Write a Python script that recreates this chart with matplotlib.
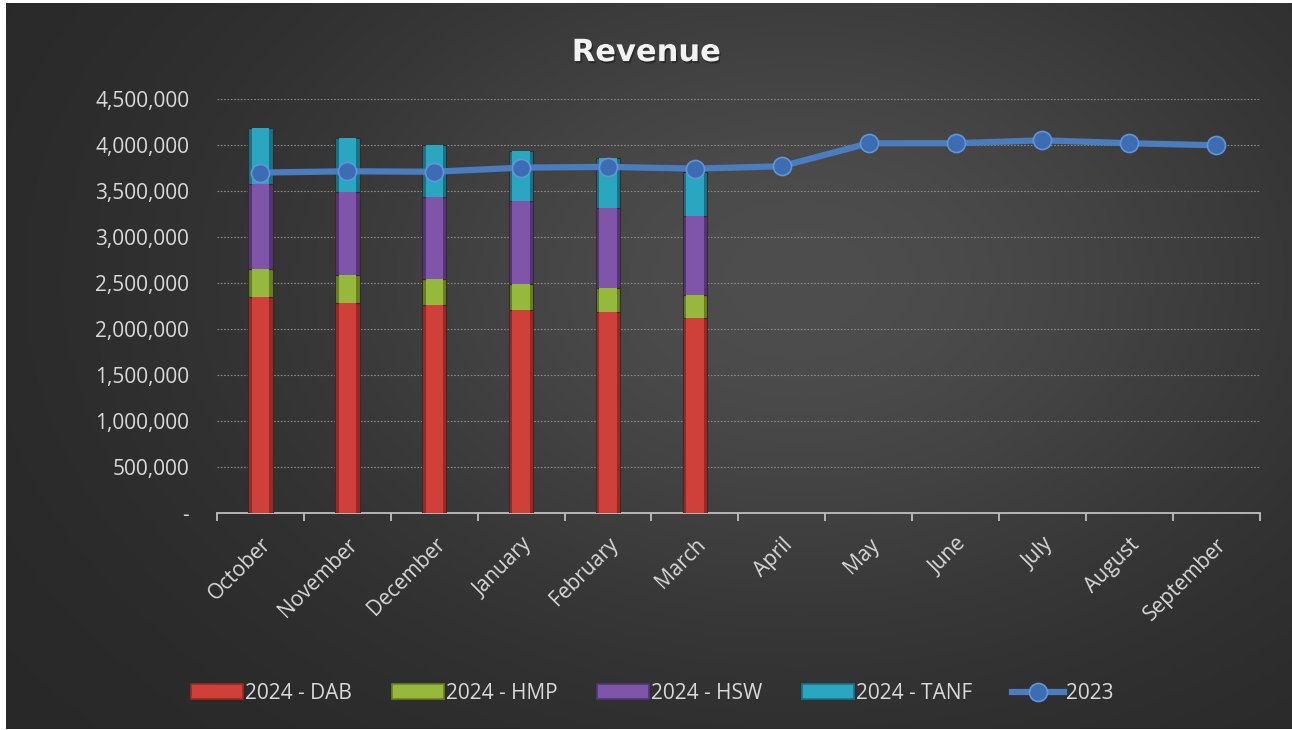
import numpy as np
import matplotlib
matplotlib.use("Agg")
import matplotlib.pyplot as plt
import matplotlib.patheffects as pe
from matplotlib.ticker import FuncFormatter, FixedLocator

months = ["October", "November", "December", "January", "February", "March",
          "April", "May", "June", "July", "August", "September"]
dab = [2345000, 2286000, 2258000, 2214000, 2185000, 2123000]
hmp = [307000, 304000, 285000, 278000, 268000, 250000]
hsw = [932000, 902000, 892000, 899000, 865000, 863000]
tanf = [608000, 587000, 568000, 551000, 548000, 470000]
rev2023 = [3703000, 3717000, 3712000, 3757000, 3765000, 3746000,
           3772000, 4022000, 4022000, 4054000, 4022000, 4000000]

plt.rcParams['font.family'] = ['Open Sans', 'DejaVu Sans']

W, H = 1292, 730
fig = plt.figure(figsize=(W / 100, H / 100), dpi=100)
fig.patch.set_facecolor('white')

# background radial gradient (chart area)
bx0, by0 = 6 / W, 1 / H
bg = fig.add_axes([bx0, by0, 1 - bx0, 1 - 3 / H - by0], zorder=-10)
px, py = np.meshgrid(np.linspace(6, W, 400), np.linspace(3, H, 240))
d2 = ((px - 800) / 750) ** 2 + ((py - 280) / 520) ** 2
val = 0.155 + 0.15 * np.exp(-2.0 * d2)
bg.imshow(np.dstack([val, val, val]), extent=[0, 1, 0, 1], aspect='auto', origin='upper')
bg.axis('off')

ax = fig.add_axes([0.168, 0.297, 0.807, 0.567])
ax.set_facecolor('none')
x = np.arange(len(months))
n = len(dab)
w = 0.28
cols = [("#d0403b", "#9a2824"), ("#96b83c", "#66821f"), ("#7e55a8", "#553479"), ("#2ba6c1", "#187388")]
labels = ["2024 - DAB", "2024 - HMP", "2024 - HSW", "2024 - TANF"]
bottom = np.zeros(n)
handles = []
for vals, (fc, ec), lab in zip([dab, hmp, hsw, tanf], cols, labels):
    ax.bar(x[:n], vals, w, bottom=bottom, color=ec, edgecolor='#3a2a2a', linewidth=0.8, zorder=3)
    h = ax.bar(x[:n], vals, w * 0.72, bottom=bottom, color=fc, edgecolor=ec, linewidth=0,
               label=lab, zorder=3.5)
    handles.append(h)
    bottom += np.array(vals)

ln, = ax.plot(x, rev2023, color="#4a7dbf", lw=4.5, marker='o', markersize=13,
              markerfacecolor="#3c6cb2", markeredgecolor="#6494d8", markeredgewidth=1.2,
              label="2023", zorder=5)
handles.append(ln)

ax.set_ylim(0, 4500000)
ax.set_xlim(-0.5, len(months) - 0.5)
ax.yaxis.set_major_locator(FixedLocator(np.arange(0, 4500001, 500000)))
ax.yaxis.set_major_formatter(FuncFormatter(lambda v, p: "-" if v == 0 else f"{int(v):,}"))
ax.grid(axis='y', color='#8a8a8a', linestyle=(0, (1.5, 1.5)), linewidth=0.8, zorder=0)
for s in ['top', 'right', 'left']:
    ax.spines[s].set_visible(False)
ax.spines['bottom'].set_color('#bfbfbf')
ax.spines['bottom'].set_linewidth(1.3)
ax.tick_params(axis='y', length=0, colors='#d9d9d9', labelsize=15, pad=20)
ax.set_xticks(x)
ax.set_xticklabels(months, rotation=45, ha='right', rotation_mode='anchor', fontsize=15, color='#d9d9d9')
ax.tick_params(axis='x', length=0, pad=15)
ax.set_xticks(np.arange(-0.5, len(months)), minor=True)
ax.tick_params(axis='x', which='minor', length=6, color='#bfbfbf', width=1.3)

fig.text(0.5, 0.928, "Revenue", ha='center', va='center', fontsize=22, fontweight='bold',
         color='#f2f2f2', family='DejaVu Sans',
         path_effects=[pe.SimplePatchShadow(offset=(1, -1.5), shadow_rgbFace='black', alpha=0.35),
                       pe.Normal()])

leg = fig.legend(handles=handles, labels=labels + ["2023"], loc='center', bbox_to_anchor=(0.505, 0.05),
                 ncol=5, frameon=False, fontsize=15, labelcolor='#d9d9d9', handlelength=2.5,
                 columnspacing=1.9, handletextpad=0.1)
for patch, (fc, ec) in zip(leg.get_patches(), cols):
    patch.set_edgecolor(ec)
    patch.set_linewidth(1.2)

fig.savefig("out.png", dpi=100, facecolor=fig.get_facecolor())
